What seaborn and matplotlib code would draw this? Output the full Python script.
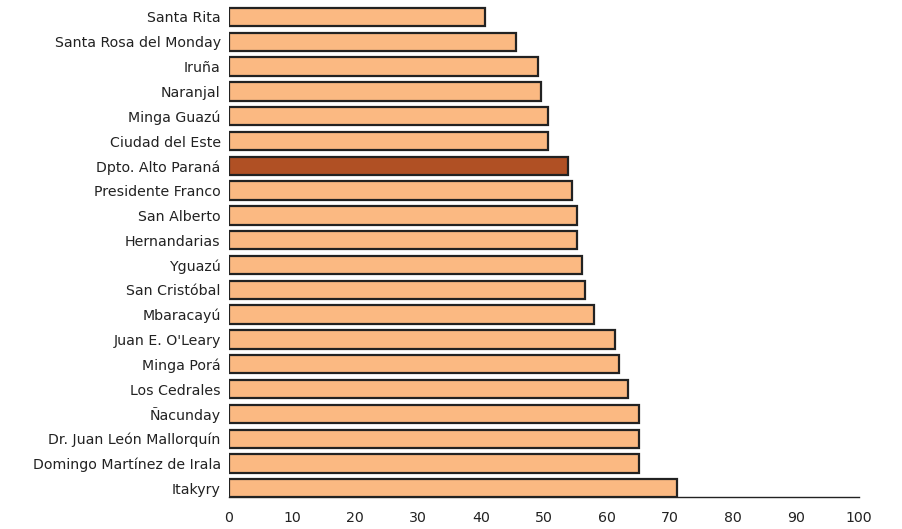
import pandas as pd
import matplotlib
matplotlib.use("Agg")
import matplotlib.pyplot as plt
import seaborn as sns

# values (percentages)
districts = [
    "Santa Rita", "Santa Rosa del Monday", "Iruña", "Naranjal", "Minga Guazú",
    "Ciudad del Este", "Dpto. Alto Paraná", "Presidente Franco", "San Alberto",
    "Hernandarias", "Yguazú", "San Cristóbal", "Mbaracayú", "Juan E. O'Leary",
    "Minga Porá", "Los Cedrales", "Ñacunday", "Dr. Juan León Mallorquín",
    "Domingo Martínez de Irala", "Itakyry",
]
values = [40.7, 45.5, 49.0, 49.6, 50.6, 50.6, 53.8, 54.4, 55.3, 55.3,
          56.0, 56.5, 57.9, 61.2, 61.9, 63.3, 65.1, 65.1, 65.1, 71.1]
highlight = "Dpto. Alto Paraná"

light = "#FBB982"
dark = "#B05024"

df = pd.DataFrame({"district": districts, "value": values})
palette = {d: (dark if d == highlight else light) for d in districts}

sns.set_style("white")
plt.rcParams['font.family'] = ['DejaVu Sans']

fig = plt.figure(figsize=(9.03, 5.29), dpi=100)
ax = fig.add_axes([229 / 903, 32 / 529, 630 / 903, 497 / 529])

sns.barplot(data=df, x="value", y="district", hue="district", palette=palette,
            order=districts, orient="h", width=0.74, legend=False,
            saturation=1, edgecolor="#222222", linewidth=1.6, ax=ax)

ax.set_xlim(0, 100)
ax.set_ylim(19.35, -0.685)
ax.set_xticks(range(0, 101, 10))
ax.tick_params(axis="both", length=0, labelsize=10.2, colors="#222222")
ax.tick_params(axis="x", pad=10)
ax.tick_params(axis="y", pad=6)
ax.set_xlabel("")
ax.set_ylabel("")
for side in ["top", "right", "left"]:
    ax.spines[side].set_visible(False)
ax.spines["bottom"].set_color("#222222")
ax.spines["bottom"].set_linewidth(1.0)

fig.savefig("out.png", dpi=100)
